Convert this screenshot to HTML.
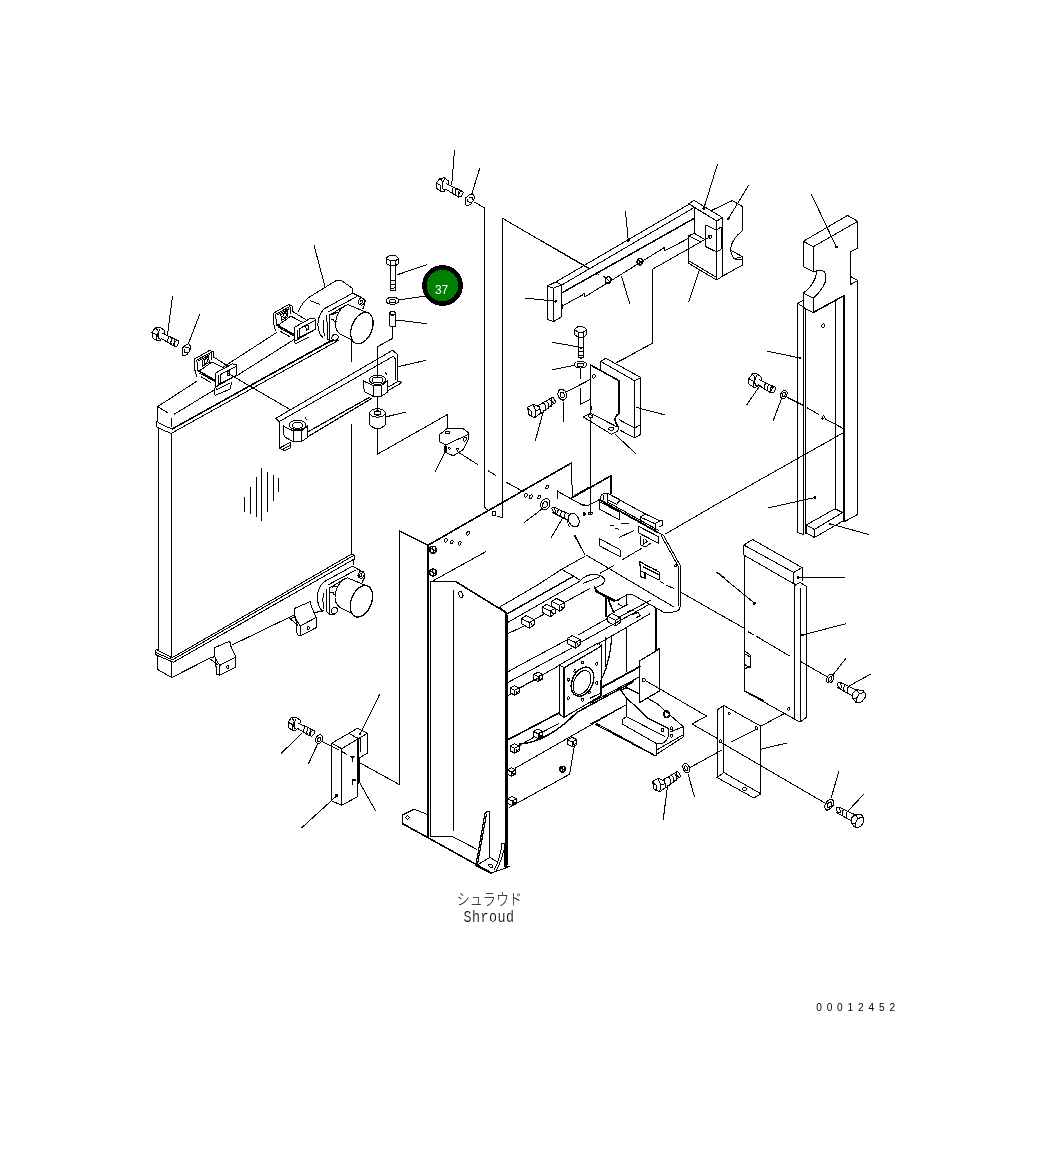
<!DOCTYPE html>
<html><head><meta charset="utf-8"><title>Shroud</title>
<style>
html,body{margin:0;padding:0;background:#fff;}
body{width:1044px;height:1161px;overflow:hidden;position:relative;font-family:"Liberation Sans","Noto Sans CJK JP",sans-serif;}
svg{position:absolute;left:0;top:0;display:block;will-change:transform}
.t{position:absolute;white-space:nowrap;color:#000}
</style></head><body>
<svg shape-rendering="crispEdges" width="1044" height="1161" viewBox="0 0 1044 1161">
<path fill="none" stroke="#000" stroke-width="1" stroke-linecap="round" stroke-linejoin="round" d="M 172.5 296.3 167.5 335.0 M 199.7 314.2 188.7 343.0 M 152.0 332.1 155.8 327.5 160.1 327.2 164.4 330.4 164.7 333.1 M 152.0 332.1 152.0 337.5 156.9 340.7 160.1 340.4 161.6 338.4 M 155.8 327.5 158.4 331.5 M 152.0 332.4 156.6 334.7 156.6 340.4 M 160.1 328.9 Q 157.5 332.4 158.4 337.5 Q 158.9 339.0 160.4 339.4 M 158.4 331.5 Q 157.2 334.7 158.4 338.1 M 162.4 333.2 177.0 340.1 M 161.6 338.6 174.2 346.3 M 169.0 336.4 Q 167.1 339.6 168.1 342.6 M 172.1 338.0 Q 170.3 341.0 171.3 344.3 M 175.0 339.4 Q 173.3 342.4 174.3 345.9 M 182.2 348.2 186.2 344.6 188.8 343.9 190.8 346.3 190.5 349.3 187.5 354.1 183.9 355.9 182.2 354.8 Z M 184.4 349.3 184.4 352.0 187.4 352.6 M 185.7 347.9 188.6 347.4 189.8 350.3 M 157.5 406.7 196.7 381.3 M 157.5 406.7 157.5 421.7 M 157.5 406.7 168.3 413.0 M 171.7 418.3 171.7 427.0 M 174.2 414.2 214.2 390.0 M 235.8 376.3 293.8 339.7 M 223.3 367.0 276.7 332.5 M 172.0 433.0 338.3 340.5 M 156.3 421.7 156.3 426.3 Q 156.7 427.7 170.0 433.0 L 172.0 433.0 M 157.5 421.7 Q 158.0 423.3 171.7 428.8 M 158.3 428.3 158.3 464.0 M 171.3 433.3 171.3 464.0 M 194.4 359.1 209.7 350.4 213.6 351.9 213.7 357.1 228.4 366.4 M 194.4 359.1 194.9 370.1 196.8 376.8 M 201.1 376.8 210.9 382.5 M 196.8 360.0 211.2 352.4 211.8 359.5 M 196.8 360.0 197.8 371.0 M 198.7 360.7 209.9 354.7 M 199.2 371.0 212.1 361.9 M 202.1 360.5 208.8 356.7 209.2 362.4 202.5 366.2 Z M 199.7 373.1 214.5 381.4 M 212.1 361.9 224.1 368.3 M 216.0 372.9 232.2 363.8 236.5 364.8 236.7 375.1 216.9 386.4 M 216.0 372.9 215.5 385.4 216.4 389.7 229.8 383.0 M 220.7 374.4 220.3 383.5 M 218.8 375.8 218.3 384.4 M 220.7 374.4 236.1 366.4 M 218.8 384.2 236.4 375.3 M 227.0 372.0 229.4 371.0 229.4 375.1 227.4 376.0 Z M 273.2 313.3 288.5 304.6 292.4 306.1 292.5 311.3 307.2 320.6 M 273.2 313.3 273.7 324.3 275.6 331.0 M 279.9 331.0 289.7 336.7 M 275.6 314.2 290.0 306.6 290.6 313.7 M 275.6 314.2 276.6 325.2 M 277.5 314.9 288.7 308.9 M 278.0 325.2 290.9 316.1 M 280.9 314.7 287.6 310.9 288.0 316.6 281.3 320.4 Z M 278.5 327.3 293.3 335.6 M 290.9 316.1 302.9 322.5 M 294.8 327.1 311.0 318.0 315.3 319.0 315.5 329.3 295.7 340.6 M 294.8 327.1 294.3 339.6 295.2 343.9 308.6 337.2 M 299.5 328.6 299.1 337.7 M 297.6 330.0 297.1 338.6 M 299.5 328.6 314.9 320.6 M 297.6 338.4 315.2 329.5 M 305.8 326.2 308.2 325.2 308.2 329.3 306.2 330.2 Z M 214.2 388.3 215.0 395.3 230.0 389.2 231.7 382.5 M 314.2 245.8 325.0 286.7 M 298.0 311.7 Q 302.5 301.7 310.0 296.7 L 335.8 280.8 341.7 280.8 352.5 288.3 352.5 293.0 M 310.8 300.8 319.2 304.2 M 324.0 308.9 352.8 293.1 361.4 297.5 365.2 300.5 364.7 304.9 362.8 308.9 M 324.0 308.9 Q 318.3 314.7 317.8 324.3 Q 318.3 333.8 323.1 337.9 M 328.3 311.8 356.6 296.7 M 326.9 315.8 327.4 338.8 330.3 341.3 336.5 340.6 M 329.8 314.7 330.0 340.7 M 330.3 314.7 345.1 305.6 M 324.0 320.4 Q 322.6 328.1 324.5 336.0 M 330.7 319.0 333.6 319.0 334.1 321.6 336.5 321.9 M 332.6 314.7 Q 335.5 311.8 338.4 313.3 M 348.0 304.6 Q 336.5 308.9 335.5 324.3 Q 335.7 331.0 340.3 334.0 L 351.8 340.1 M 348.0 304.6 365.2 311.8 M 323.5 582.1 352.3 566.3 360.9 570.7 364.7 573.7 364.2 578.1 362.3 582.1 M 323.5 582.1 Q 317.8 587.9 317.3 597.5 Q 317.8 607.0 322.6 611.1 M 327.8 585.0 356.1 569.9 M 326.4 589.0 326.9 612.0 329.8 614.5 336.0 613.8 M 329.3 587.9 329.5 613.9 M 329.8 587.9 344.6 578.8 M 323.5 593.6 Q 322.1 601.3 324.0 609.2 M 330.2 592.2 333.1 592.2 333.6 594.8 336.0 595.1 M 332.1 587.9 Q 335.0 585.0 337.9 586.5 M 347.5 577.8 Q 336.0 582.1 335.0 597.5 Q 335.2 604.2 339.8 607.2 L 351.3 613.3 M 347.5 577.8 364.7 585.0 M 351.3 336.7 351.3 361.7 M 386.2 258.3 386.2 263.3 390.0 265.8 395.3 265.8 398.7 263.3 398.7 258.3 Q 395.8 255.0 392.5 255.0 Q 388.7 255.0 386.2 258.3 M 386.2 258.3 390.0 260.8 395.3 260.8 398.7 258.3 M 390.0 260.8 390.0 265.8 M 395.3 260.8 395.3 265.8 M 390.0 265.8 390.0 290.0 Q 392.8 292.0 395.8 290.0 L 395.8 265.8 M 390.0 280.0 Q 392.8 282.0 395.8 280.0 M 390.0 283.7 Q 392.8 285.7 395.8 283.7 M 390.0 287.3 Q 392.8 289.3 395.8 287.3 M 396.7 275.0 426.7 264.7 M 398.3 300.0 424.2 296.2 M 389.7 313.3 389.7 325.8 Q 392.8 328.0 395.8 325.8 L 395.8 313.3 M 396.3 320.0 426.7 323.7 M 392.8 327.5 392.8 338.3 377.5 346.7 377.5 376.7 M 275.8 418.3 392.5 350.3 397.5 354.2 397.8 380.8 401.7 382.5 M 285.0 418.3 393.3 356.3 395.3 358.7 395.3 379.7 M 275.8 418.3 279.2 421.7 279.2 448.3 284.2 450.8 290.0 448.3 290.0 443.3 M 279.2 421.7 285.0 418.3 M 279.2 448.3 290.0 442.5 M 281.7 450.0 290.0 445.3 M 387.5 390.8 401.7 382.8 M 388.3 387.0 398.3 381.3 M 283.3 425.8 284.2 436.7 293.3 441.7 301.3 441.7 307.5 437.5 307.5 425.8 M 283.3 426.3 293.3 430.8 301.3 430.8 307.5 426.3 M 293.3 430.8 293.3 441.7 M 301.3 430.8 301.3 441.7 M 305.5 418.0 307.0 420.3 M 363.3 380.5 364.2 391.4 373.3 396.4 381.3 396.4 387.5 392.2 387.5 380.5 M 363.3 381.0 373.3 385.5 381.3 385.5 387.5 381.0 M 373.3 385.5 373.3 396.4 M 381.3 385.5 381.3 396.4 M 385.5 372.7 387.0 375.0 M 392.5 335.0 392.5 338.3 377.5 346.7 377.5 375.0 M 377.5 396.7 377.5 410.0 M 369.7 413.3 369.7 425.0 Q 377.5 432.5 385.3 425.0 L 385.3 413.3 M 386.7 416.7 405.8 412.0 M377.5 429 L377.5 454.2 L447.5 414.5 L447.5 428.3 M 398.3 366.7 425.8 360.3 M227.5 373 L290.5 409.8 M 351.3 340.8 351.3 361.7 M 351.3 424.2 351.3 553.7 M 158.2 430.0 158.2 649.5 M 171.8 433.8 171.8 657.0 M 244.5 497.5 244.5 511.2 M 250.5 487.5 250.5 513.8 M 256.5 477.5 256.5 517.0 M 261.8 468.0 261.8 520.5 M 267.5 472.0 267.5 511.2 M 273.0 475.0 273.0 501.2 M 278.8 478.0 278.8 491.2 M 172.0 657.8 352.0 553.8 M 172.5 659.8 353.2 555.8 M 173.5 662.2 354.2 559.0 M 156.5 649.5 172.0 657.8 M 155.5 652.5 172.5 659.8 M 156.5 655.2 173.5 662.2 M 156.5 649.5 Q 154.2 652.5 156.5 655.2 M 352.0 553.8 Q 356.0 555.5 354.2 559.0 L 353.0 565.0 M 157.0 655.2 157.0 669.2 171.8 677.5 171.8 662.2 M 171.8 677.5 209.2 658.5 M 232.5 644.8 293.0 615.5 M 214.1 647.9 229.7 641.1 230.9 646.3 235.7 656.7 235.7 667.2 219.7 675.3 216.6 674.1 215.4 658.5 214.1 654.8 Z M 219.7 665.4 235.7 657.0 M 219.7 665.4 219.7 675.3 M 215.4 658.5 219.7 665.4 M 209.2 658.3 214.5 656.7 M 209.2 658.3 Q 213.5 661.0 217.2 664.8 M 294.6 608.4 310.2 601.6 311.4 606.8 316.2 617.2 316.2 627.7 300.2 635.8 297.1 634.6 295.9 619.0 294.6 615.3 Z M 300.2 625.9 316.2 617.5 M 300.2 625.9 300.2 635.8 M 295.9 619.0 300.2 625.9 M 289.7 618.8 295.0 617.2 M 289.7 618.8 Q 294.0 621.5 297.7 625.3 M 315.5 612.5 323.8 610.5 M428 545.3 L399.6 531 L399.6 784.7 L359.2 762.5 M 436.3 182.8 440.1 178.2 444.4 177.9 448.7 181.1 449.0 183.8 M 436.3 182.8 436.3 188.2 441.2 191.4 444.4 191.1 445.9 189.1 M 440.1 178.2 442.7 182.2 M 436.3 183.1 440.9 185.4 440.9 191.1 M 444.4 179.6 Q 441.8 183.1 442.7 188.2 Q 443.2 189.7 444.7 190.1 M 442.7 182.2 Q 441.5 185.4 442.7 188.8 M 446.7 183.9 461.3 190.8 M 445.9 189.3 458.5 197.0 M 453.3 187.1 Q 451.4 190.3 452.4 193.3 M 456.4 188.7 Q 454.6 191.7 455.6 195.0 M 459.3 190.1 Q 457.6 193.1 458.6 196.6 M 465.7 198.0 469.7 194.4 472.3 193.7 474.3 196.1 474.0 199.1 471.0 203.9 467.4 205.7 465.7 204.6 Z M 467.9 199.1 467.9 201.8 470.9 202.4 M 469.2 197.7 472.1 197.2 473.3 200.1 M 454.5 150.3 451.7 185.0 M 479.7 168.3 471.7 194.2 M 502.5 218.3 588.3 268.3 M 547.5 285.8 547.5 319.2 553.3 321.7 561.7 316.7 561.7 285.0 M 547.5 285.8 553.3 288.3 561.7 284.7 555.8 282.0 Z M 553.3 288.3 553.3 321.7 M 555.8 282.0 688.3 204.7 M 561.7 285.0 694.2 207.5 M 562.5 305.8 582.5 295.0 583.3 293.3 585.0 293.7 584.7 297.0 662.5 248.7 664.2 247.5 664.7 250.8 689.2 238.0 M 606.3 278.3 610.0 282.0 M 638.3 259.7 642.0 263.7 M 603.3 276.3 606.3 278.3 M 625.5 212.0 628.3 240.5 M 540.0 240.0 590.0 268.7 M 596.3 272.0 598.7 274.7 M 596.3 274.3 598.7 272.3 M 621.7 276.7 629.7 303.7 M 525.0 298.0 555.8 301.3 M 562.5 304.2 562.5 308.3 M 688.7 203.7 694.2 200.5 722.5 217.7 716.7 221.0 Z M 694.2 207.5 694.2 233.3 M 716.7 221.0 716.7 280.0 M 722.5 217.7 722.5 276.2 M 694.2 207.5 716.7 221.0 M 717.5 164.2 703.7 208.7 M 705.8 225.0 705.8 246.7 716.7 252.0 M 705.8 225.0 716.7 230.3 720.0 227.7 721.7 228.3 721.7 248.7 716.7 252.0 M 710.0 236.7 652.5 269.2 652.5 343.0 618.3 362.0 M 688.7 235.8 694.2 233.3 705.8 240.0 M 688.7 235.8 688.7 263.3 716.7 280.0 722.5 276.2 M 688.7 260.8 716.7 277.5 M 688.7 235.8 700.0 241.7 M 699.2 270.8 688.7 301.7 M 712.5 210.0 732.5 200.5 742.5 206.7 742.5 230.8 Q 732.5 238.3 730.8 247.5 Q 730.3 254.2 734.2 258.7 L 742.5 256.7 M 742.5 256.7 742.5 265.0 722.5 276.2 M 731.7 250.8 742.5 256.7 M 734.2 258.7 Q 736.7 260.3 742.5 259.2 M 748.7 185.0 728.3 218.8 M 803.3 241.3 847.5 215.5 857.8 221.3 813.3 246.7 Z M 803.3 241.3 803.3 266.7 813.3 271.7 813.3 246.7 M 857.8 221.3 857.8 248.0 850.3 252.0 850.3 284.7 857.8 280.5 M 850.3 276.3 857.8 280.5 M 813.3 271.7 Q 820.0 269.2 824.2 271.3 M 816.7 271.7 Q 815.0 285.0 803.3 293.0 M 824.2 271.3 Q 830.8 281.7 813.3 298.3 M 803.3 293.0 803.3 307.5 813.3 312.5 M 803.3 293.0 813.3 298.3 813.3 312.5 M 797.5 303.3 803.3 300.3 M 797.5 303.3 805.8 308.3 M 811.3 194.2 836.3 247.0 M 797.5 303.2 797.5 532.5 803.8 534.5 M 803.8 308.2 803.8 533.8 M 805.5 308.2 805.5 533.8 M 835.0 300.8 835.0 508.8 M 857.5 280.5 857.5 514.5 843.8 522.0 M 806.2 525.0 835.0 508.8 842.5 512.5 814.5 529.5 Z M 806.2 525.0 806.2 533.0 814.5 537.5 814.5 529.5 M 814.5 537.5 842.5 521.2 M 868.8 534.5 830.0 523.8 M 767.5 351.2 800.0 358.0 M 768.0 508.0 815.0 497.5 M 787.5 397.5 802.5 405.0 M 807.5 408.0 818.8 414.5 M 825.0 418.8 843.8 428.8 M 843.8 432.5 710.0 508.0 M 748.8 378.6 752.5 374.0 756.8 373.7 761.1 376.9 761.4 379.6 M 748.8 378.6 748.8 384.1 753.6 387.2 756.8 386.9 758.3 384.9 M 752.5 374.0 755.1 378.0 M 748.8 378.9 753.3 381.2 753.3 386.9 M 756.8 375.4 Q 754.2 378.9 755.1 384.1 Q 755.6 385.5 757.1 385.9 M 755.1 378.0 Q 753.9 381.2 755.1 384.6 M 759.1 379.7 773.8 386.6 M 758.3 385.1 770.9 392.8 M 765.7 382.9 Q 763.9 386.1 764.8 389.1 M 768.9 384.5 Q 767.0 387.5 768.0 390.8 M 771.7 385.9 Q 770.0 388.9 771.0 392.4 M 760.0 385.5 747.0 404.5 M 781.2 399.5 773.0 421.2 M 574.3 329.6 574.3 334.6 578.1 337.1 583.4 337.1 586.8 334.6 586.8 329.6 Q 583.9 326.3 580.6 326.3 Q 576.8 326.3 574.3 329.6 M 574.3 329.6 578.1 332.1 583.4 332.1 586.8 329.6 M 578.1 332.1 578.1 337.1 M 583.4 332.1 583.4 337.1 M 578.1 337.1 578.1 357.1 Q 580.9 359.1 583.9 357.1 L 583.9 337.1 M 578.1 347.1 Q 580.9 349.1 583.9 347.1 M 578.1 350.8 Q 580.9 352.8 583.9 350.8 M 578.1 354.5 Q 580.9 356.5 583.9 354.5 M 553.0 342.5 577.5 346.7 M 552.5 369.7 574.2 365.3 M 580.5 368.3 580.5 378.3 M 580.5 388.3 580.5 404.2 590.0 399.7 M 583.3 417.0 590.0 413.7 M 583.3 417.0 611.3 434.2 617.5 431.3 618.7 427.5 M 590.8 413.3 616.7 426.7 M 590.5 405.8 592.0 408.3 590.5 410.8 M 600.5 370.8 600.5 361.3 605.8 358.3 640.8 377.5 640.8 434.2 634.7 438.0 634.7 380.8 600.5 361.3 M 634.7 380.8 640.8 377.5 M 619.2 419.7 634.7 428.0 640.8 424.7 M 619.7 430.0 634.7 438.0 M 652.5 336.7 652.5 343.3 616.7 362.5 M 664.2 414.7 636.7 407.5 M 615.0 434.2 635.8 453.7 M 527.5 407.5 533.0 404.2 539.2 406.7 540.8 413.0 534.7 417.7 529.2 415.3 Z M 533.0 404.2 535.8 410.8 534.7 417.7 M 535.8 410.8 540.8 409.2 M 527.5 408.0 531.7 411.7 531.7 416.3 M 538.7 405.3 552.0 397.5 M 541.3 413.3 554.3 403.0 M 543.7 403.0 Q 546.7 405.8 545.8 410.0 M 546.7 401.3 Q 549.7 404.2 548.8 408.3 M 549.7 399.5 Q 552.7 402.3 551.8 406.3 M 543.7 410.0 535.3 440.8 M 563.0 400.0 563.3 421.7 M 566.7 391.7 590.8 379.2 M 590.5 418.3 590.5 514.0 M 439.2 434.7 447.5 428.3 462.5 428.3 468.7 433.0 468.7 438.7 463.0 449.7 453.3 455.8 447.0 453.0 445.8 445.0 439.2 441.7 Z M 445.8 445.0 468.7 434.2 M 445.0 451.7 435.3 471.7 M 457.5 451.7 478.0 464.7 M 488.3 470.8 495.8 475.3 M 505.8 482.0 523.3 491.7 M474.2 202 L484.7 208 L484.7 506.7 Q485 509 488.3 510 M502.5 218.3 L502.5 517.5 L497.5 516.5 M 492.0 511.3 495.8 511.3 495.8 515.3 492.0 515.3 Z M 571.7 463.0 572.2 497.5 M 557.5 491.3 557.5 498.3 M 557.5 491.3 581.7 504.7 589.0 505.3 M 429.8 547.7 436.2 551.5 M 432.3 546.5 433.5 552.8 M 429.8 570.5 436.2 574.3 M 432.3 569.3 433.5 575.7 M 541.7 509.2 524.2 522.5 M 570.0 514.3 Q 565.8 520.0 569.2 526.7 M 554.8 507.5 570.3 514.7 M 552.5 512.5 567.5 520.0 M 558.7 509.3 Q 556.3 512.5 557.0 514.7 M 562.3 511.0 Q 560.0 514.3 560.7 516.5 M 565.8 512.7 Q 563.7 516.0 564.3 518.3 M 562.5 518.3 551.3 537.5 M 574.2 535.3 585.0 554.7 M 433.0 580.8 485.8 551.7 M 430.3 836.7 430.3 581.7 M 557.5 490.8 557.5 498.3 M 590.5 446.7 590.5 512.0 M 588.8 512.3 592.0 512.3 592.0 514.3 588.8 514.3 Z M 582.5 505.3 Q 587.5 506.3 590.0 504.7 L 600.0 499.2 Q 600.0 494.7 604.2 493.7 L 608.3 493.7 645.8 514.2 M 656.7 531.7 663.3 535.0 680.0 565.0 680.0 606.7 Q 679.2 612.0 673.3 612.0 L 663.3 612.0 656.7 608.3 633.3 595.0 Q 628.3 593.3 623.3 596.7 L 616.7 600.8 608.3 598.3 595.8 590.0 M 661.3 535.8 678.0 565.8 678.0 605.8 M 607.5 493.7 607.5 501.7 M 603.3 495.0 603.3 500.0 M 608.3 500.0 616.7 504.2 620.3 500.0 611.3 495.0 M 599.5 501.7 619.2 512.0 619.2 519.7 599.5 509.2 Z M 599.5 538.7 620.0 549.7 620.0 556.7 599.5 545.8 Z M 607.5 502.0 658.3 530.3 M 640.0 524.2 640.0 517.0 645.8 514.2 660.0 520.8 662.5 520.8 662.5 525.3 659.2 526.7 M 640.0 517.0 655.0 523.7 655.3 529.7 M 655.0 523.7 660.0 520.8 M 638.3 526.3 658.7 536.7 658.7 543.3 638.3 532.8 Z M 640.8 536.7 640.8 545.0 645.8 547.0 650.3 543.3 M 643.3 539.2 643.3 544.2 647.5 541.3 645.0 539.2 M 639.2 561.3 659.2 572.0 659.2 580.0 640.8 570.8 Z M 610.8 525.8 614.2 525.0 M 621.7 523.3 628.3 523.3 M 615.0 528.3 618.3 529.2 M 619.2 537.5 633.3 530.8 M 621.7 560.0 641.7 548.3 M 600.0 573.3 613.3 565.8 M 660.0 581.7 663.3 583.3 M 666.7 585.3 673.3 588.3 M 575.0 535.3 585.0 554.7 M 586.7 555.3 673.3 606.7 M 665.0 534.2 724.0 500.0 M680 591.7 L744.2 628.3 M 717.5 572.5 724.0 577.5 M 561.7 569.2 584.2 556.7 M 580.8 580.0 Q 588.3 572.5 599.2 575.3 Q 607.5 578.3 603.0 583.7 L 595.0 588.3 M 583.3 583.3 600.0 576.7 M 595.0 588.3 598.3 591.7 616.7 600.8 M 453.7 590.8 453.7 830.8 M 507.8 615.0 507.8 865.0 M 500.0 606.8 537.5 585.0 561.6 569.3 M 500.0 607.6 506.9 613.0 M 507.7 622.5 581.0 580.6 M 561.6 569.3 581.0 580.6 M 507.7 633.7 524.1 626.0 M 534.9 619.1 543.7 614.3 M 564.8 602.2 589.5 588.7 M 521.5 618.7 526.1 615.7 534.5 619.9 529.5 622.5 Z M 521.5 618.7 521.5 623.7 529.5 628.3 529.5 622.5 M 529.5 628.3 534.5 624.8 534.5 619.9 M 531.0 623.3 532.2 625.6 533.7 624.8 M 542.1 607.2 546.7 604.2 555.2 608.4 550.2 611.1 Z M 542.1 607.2 542.1 612.2 550.2 616.8 550.2 611.1 M 550.2 616.8 555.2 613.4 555.2 608.4 M 551.7 611.8 552.9 614.1 554.4 613.4 M 551.7 601.5 556.3 598.4 564.8 602.6 559.8 605.3 Z M 551.7 601.5 551.7 606.5 559.8 611.1 559.8 605.3 M 559.8 611.1 564.8 607.6 564.8 602.6 M 561.3 606.1 562.5 608.4 564.0 607.6 M 567.4 638.6 572.0 635.6 580.5 639.8 575.5 642.5 Z M 567.4 638.6 567.4 643.6 575.5 648.2 575.5 642.5 M 575.5 648.2 580.5 644.8 580.5 639.8 M 577.0 643.2 578.2 645.5 579.7 644.8 M 507.8 672.0 521.0 664.5 M 567.4 639.8 521.0 664.5 M 507.8 682.5 571.0 648.5 M 578.5 634.8 607.4 618.5 M 579.0 643.2 650.0 604.0 M 597.4 644.3 650.0 613.7 M 618.5 617.4 650.0 600.5 M 613.8 611.6 627.5 604.8 M 607.4 616.4 612.0 613.4 620.4 617.6 615.4 620.2 Z M 607.4 616.4 607.4 621.4 615.4 626.0 615.4 620.2 M 615.4 626.0 620.4 622.5 620.4 617.6 M 616.9 621.0 618.1 623.3 619.6 622.5 M 559.2 665.0 597.5 643.3 M 564.2 668.0 601.7 646.0 M 507.8 695.8 510.0 694.5 M 519.5 688.0 533.5 680.0 M 543.0 674.5 559.2 665.5 M 533.6 674.4 538.2 672.1 542.8 674.4 542.8 679.2 538.2 681.5 533.6 679.2 Z M 533.6 674.4 538.2 676.7 542.8 674.4 M 538.2 676.7 538.2 681.5 M 539.6 677.2 540.0 679.5 541.9 678.1 M 510.1 688.0 514.7 685.7 519.3 688.0 519.3 692.8 514.7 695.1 510.1 692.8 Z M 510.1 688.0 514.7 690.3 519.3 688.0 M 514.7 690.3 514.7 695.1 M 516.1 690.8 516.5 693.1 518.4 691.7 M 559.2 665.0 597.5 643.3 601.7 645.8 601.7 695.0 564.2 717.5 559.2 714.2 Z M 564.2 667.5 564.2 717.5 M 559.2 665.0 564.2 667.5 601.7 645.8 M 655.8 650.0 659.2 648.3 659.7 690.8 M 642.3 678.7 645.0 678.7 645.0 681.3 642.3 681.3 Z M645.8 680.8 L706.5 716 L692 724 L716.5 738 M 626.7 628.3 626.7 671.7 M 626.7 683.3 626.7 688.3 M 590.0 703.3 639.7 676.7 M 590.0 698.3 601.7 692.5 M626.4 595.8 L626.4 604.8 L623.2 606.9 L618 603.7 M 622.5 719.2 626.7 716.7 665.0 736.7 M 622.5 719.2 622.5 724.2 656.7 743.7 M 668.3 728.3 Q 670.3 738.3 663.3 743.0 L 656.7 743.7 656.7 755.8 M 647.5 698.3 656.7 703.3 683.3 726.7 683.3 737.0 656.7 754.2 M 656.7 750.0 683.3 734.7 M 670.8 731.7 683.3 726.7 M 595.0 724.2 655.0 755.8 M 590.0 724.2 625.8 705.0 M 744.2 578.3 744.2 690.8 764.0 700.8 M 745.8 651.7 750.0 655.0 750.0 666.7 745.8 668.3 M 748.3 631.7 752.5 634.2 M 756.7 636.3 761.7 639.2 M 519.2 688.3 539.2 677.5 M 559.2 665.0 559.2 713.3 563.3 717.5 600.0 696.7 600.0 680.0 M 563.3 668.3 563.3 717.5 M 519.2 745.8 533.3 737.5 M 542.5 732.0 558.7 723.7 M 510.1 746.0 514.7 743.7 519.3 746.0 519.3 750.8 514.7 753.1 510.1 750.8 Z M 510.1 746.0 514.7 748.3 519.3 746.0 M 514.7 748.3 514.7 753.1 M 516.1 748.8 516.5 751.1 518.4 749.7 M 533.4 731.4 538.0 729.1 542.6 731.4 542.6 736.2 538.0 738.5 533.4 736.2 Z M 533.4 731.4 538.0 733.7 542.6 731.4 M 538.0 733.7 538.0 738.5 M 539.4 734.2 539.8 736.5 541.7 735.1 M 567.6 739.7 572.2 737.4 576.8 739.7 576.8 744.5 572.2 746.8 567.6 744.5 Z M 567.6 739.7 572.2 742.0 576.8 739.7 M 572.2 742.0 572.2 746.8 M 573.6 742.5 574.0 744.8 575.9 743.4 M 515.0 768.3 625.8 705.0 M 574.2 746.7 569.7 774.2 509.2 807.5 M 507.3 769.9 511.5 767.8 515.7 769.9 515.7 774.3 511.5 776.4 507.3 774.3 Z M 507.3 769.9 511.5 772.0 515.7 769.9 M 511.5 772.0 511.5 776.4 M 512.8 772.4 513.2 774.5 514.9 773.3 M 507.6 798.8 512.0 796.6 516.4 798.8 516.4 803.4 512.0 805.6 507.6 803.4 Z M 507.6 798.8 512.0 801.0 516.4 798.8 M 512.0 801.0 512.0 805.6 M 513.3 801.4 513.8 803.6 515.5 802.3 M 559.8 767.5 565.2 770.7 M 561.8 766.5 563.0 771.8 M 595.8 723.0 655.8 755.8 M 652.5 781.7 658.0 778.3 664.2 780.8 665.8 787.2 659.7 791.8 654.2 789.5 Z M 658.0 778.3 660.8 785.0 659.7 791.8 M 660.8 785.0 665.8 783.3 M 652.5 782.2 656.7 785.8 656.7 790.5 M 663.7 779.5 677.0 771.7 M 666.3 787.5 679.3 777.2 M 668.7 777.2 Q 671.7 780.0 670.8 784.2 M 671.7 775.5 Q 674.7 778.3 673.8 782.5 M 674.7 773.7 Q 677.7 776.5 676.8 780.5 M 667.5 785.8 663.3 819.7 M 430.3 836.7 452.5 836.7 476.7 849.2 M 402.5 815.0 414.2 809.2 426.7 814.2 M 402.5 815.0 402.5 824.2 M 405.3 817.5 407.5 815.8 409.7 817.5 407.5 819.3 Z M 475.8 865.8 489.7 857.5 497.5 861.7 M 475.8 865.8 490.8 873.3 509.2 866.7 M 494.2 870.0 Q 500.0 860.0 502.0 843.3 L 504.2 843.0 504.2 866.7 M 495.8 871.3 Q 502.0 860.0 503.7 850.0 M 506.7 866.7 509.2 866.7 M 559.2 700.0 559.2 713.3 M 564.2 700.0 564.2 716.7 M 743.8 555.0 743.8 545.0 752.5 539.5 802.0 567.5 802.0 581.2 M 743.8 545.0 793.8 572.5 802.0 567.5 M 793.8 572.5 793.8 583.8 M 743.8 555.0 793.8 583.8 M 744.5 555.0 744.5 691.2 796.2 720.0 M 794.5 583.8 794.5 718.8 M 800.0 587.5 800.0 722.0 M 806.2 586.2 806.2 717.5 M 794.5 585.5 800.0 582.5 806.2 586.2 M 796.2 720.0 800.0 722.0 806.2 717.5 M 745.0 653.8 750.0 657.0 750.0 667.5 745.5 665.0 M 717.0 572.5 754.5 603.2 M 845.0 577.0 798.0 577.5 M 845.5 623.8 802.5 635.0 M 748.8 632.5 753.8 635.0 M 757.5 637.0 790.0 656.2 M 800.0 661.2 826.2 676.2 M 846.2 658.0 832.5 675.5 M 839.2 807.2 855.3 814.9 M 836.5 812.6 851.6 820.9 M 843.5 809.5 Q 841.8 812.2 842.9 815.2 M 847.2 811.2 Q 845.5 813.9 846.5 817.2 M 851.6 817.6 855.3 814.6 861.3 814.9 863.7 817.6 863.7 822.3 861.3 825.6 858.0 827.7 854.6 827.0 851.6 823.6 Z M 855.3 814.6 858.0 818.3 855.3 823.0 855.3 827.0 M 858.0 818.3 863.7 817.2 M 851.6 823.6 855.3 823.0 M 840.5 682.5 856.6 690.2 M 837.8 687.9 852.9 696.2 M 844.8 684.8 Q 843.1 687.5 844.2 690.5 M 848.5 686.5 Q 846.8 689.2 847.8 692.5 M 852.9 692.9 856.6 689.9 862.6 690.2 865.0 692.9 865.0 697.6 862.6 700.9 859.3 703.0 855.9 702.3 852.9 698.9 Z M 856.6 689.9 859.3 693.6 856.6 698.3 856.6 702.3 M 859.3 693.6 865.0 692.5 M 852.9 698.9 856.6 698.3 M 824.4 806.8 826.7 801.5 830.8 799.1 833.8 800.8 833.5 804.8 830.4 808.5 826.7 810.5 Z M 827.1 806.5 828.1 803.2 830.8 801.8 831.8 803.5 830.8 806.2 828.4 807.9 Z M 870.5 674.2 848.8 686.2 M 863.7 794.2 847.9 811.2 M 838.8 771.4 831.1 798.1 M 717.0 710.0 723.8 705.5 760.8 726.2 760.8 793.8 753.8 798.0 717.0 777.5 Z M 723.8 705.5 723.8 772.5 717.0 777.5 M 723.8 772.5 760.8 793.8 M 731.2 742.0 755.8 729.5 M 760.8 749.2 786.2 743.2 M 760.8 726.2 783.8 713.8 M 721.2 742.5 826.2 803.8 M 722.0 750.0 690.0 767.5 M 688.0 773.8 694.5 797.0 M 667.5 786.2 663.2 819.5 M 331.7 743.3 357.5 728.3 367.5 733.3 341.7 748.7 Z M 331.7 743.3 331.7 800.8 341.7 805.3 341.7 748.7 M 341.7 805.3 357.5 796.7 357.5 737.5 M 348.3 733.0 358.3 738.7 358.3 758.3 367.5 753.3 367.5 733.3 M 360.8 737.5 360.8 751.7 M 379.7 694.2 360.0 734.2 M 360.0 783.3 375.3 810.3 M 336.7 795.8 302.0 827.5 M 322.5 741.7 338.3 749.7 M 342.5 752.0 346.7 754.2 M 317.5 744.2 308.7 763.3 M 288.0 722.0 291.7 717.4 296.0 717.1 300.4 720.3 300.6 723.0 M 288.0 722.0 288.0 727.5 292.9 730.6 296.0 730.3 297.6 728.3 M 291.7 717.4 294.3 721.4 M 288.0 722.3 292.6 724.6 292.6 730.3 M 296.0 718.8 Q 293.5 722.3 294.3 727.5 Q 294.9 728.9 296.3 729.3 M 294.3 721.4 Q 293.2 724.6 294.3 728.0 M 298.3 723.1 313.0 730.0 M 297.6 728.5 310.1 736.2 M 305.0 726.3 Q 303.1 729.5 304.1 732.5 M 308.1 727.9 Q 306.3 730.9 307.3 734.2 M 311.0 729.3 Q 309.3 732.3 310.2 735.8 M 301.7 733.3 281.3 753.3"/>
<path fill="none" stroke="#000" stroke-width="1.6" stroke-linecap="round" stroke-linejoin="round" d="M 172.5 428.8 333.3 339.5 M 721.3 227.7 721.3 248.3 M 843.8 295.5 843.8 521.2 M 428.0 545.2 571.7 462.8 M 571.7 497.5 589.0 487.5 M 572.5 497.5 610.8 475.8 611.3 493.7 M 455.2 581.3 506.8 613.0 M 655.8 608.3 655.8 650.0 M605.9 595.8 L605.9 616.4 M608.5 600 L613.8 612.7 M 507.7 739.8 558.5 713.2 M 402.7 823.7 491.0 872.7 M 358.7 758.3 358.7 783.3"/>
<path fill="none" stroke="#000" stroke-width="1.5" stroke-linecap="round" stroke-linejoin="round" d="M 198.7 371.0 215.5 380.6 M 277.5 325.2 294.3 334.8 M 561.7 293.0 694.2 218.3 M 813.3 312.5 844.2 295.5 M 590.5 414.2 590.5 365.0 619.2 380.8 619.2 413.3 Q 615.0 415.8 615.0 420.0 Q 615.8 424.2 618.7 427.5 M 430.3 581.7 455.0 581.7 M594.8 586.8 L595.8 591.6 L613.8 601.1 L618 600 M 519.2 744.2 Q 548.3 741.7 576.7 712.5 L 633.3 681.7"/>
<path fill="none" stroke="#000" stroke-width="1.2" stroke-linecap="round" stroke-linejoin="round" d="M 307.5 432.0 369.2 397.5 M 308.0 436.7 371.7 398.3 M 639.7 660.8 659.2 649.2 M 639.7 660.8 639.7 702.5 659.7 690.8 M 601.7 644.2 601.7 687.5 M 605.8 637.5 605.8 666.7 M 611.7 635.8 Q 610.8 658.3 602.5 677.5 M 627.5 611.7 633.3 610.0 M 630.0 615.0 638.3 612.5 640.0 615.8 636.7 617.5 M 475.8 865.8 485.0 813.3 Q 486.7 811.3 489.7 811.3 L 489.7 857.5 M 477.2 865.8 486.3 815.0 M 350.8 757.0 354.2 757.0 M 352.5 757.0 352.5 761.3 M 352.5 780.0 355.3 780.0 M 352.5 780.0 352.5 784.7"/>
<path fill="none" stroke="#000" stroke-width="1.8" stroke-linecap="round" stroke-linejoin="round" d="M 445.0 446.7 445.0 452.0 M 600.0 500.0 656.7 531.7 M 601.7 687.5 639.7 666.7"/>
<path fill="none" stroke="#000" stroke-width="2" stroke-linecap="round" stroke-linejoin="round" d="M 427.5 545.3 427.5 836.7 M 506.3 613.3 506.3 866.7"/>
<path fill="none" stroke="#000" stroke-width="1.3" stroke-linecap="round" stroke-linejoin="round" d="M 640.8 565.0 640.8 576.7 645.8 578.3 M 643.3 566.7 658.3 574.2 M 645.8 565.0 656.7 570.3 M 645.0 572.5 645.0 578.3 M 620.8 690.0 626.7 687.5 639.7 694.2 M 620.8 690.0 626.7 698.3 626.7 716.7 M 626.7 698.3 Q 640.0 710.0 646.7 717.5 L 668.3 728.3"/>
<path fill="none" stroke="#000" stroke-width="1.4" stroke-linecap="round" stroke-linejoin="round" d="M 508.0 613.4 573.6 576.2"/>
<ellipse cx="176.5" cy="343.4" rx="1.8" ry="3.3" transform="rotate(28 176.5 343.4)" fill="none" stroke="#000" stroke-width="1"/>
<ellipse cx="205.9" cy="361.3" rx="1.5" ry="2.6" transform="rotate(20 205.9 361.3)" fill="none" stroke="#000" stroke-width="1"/>
<ellipse cx="284.7" cy="315.5" rx="1.5" ry="2.6" transform="rotate(20 284.7 315.5)" fill="none" stroke="#000" stroke-width="1"/>
<ellipse cx="361.6" cy="301.5" rx="2.9" ry="3.6" transform="rotate(20 361.6 301.5)" fill="none" stroke="#000" stroke-width="1"/>
<ellipse cx="361.2" cy="302.0" rx="1.1" ry="1.7" transform="rotate(20 361.2 302.0)" fill="none" stroke="#000" stroke-width="1"/>
<ellipse cx="335.0" cy="337.5" rx="2.9" ry="3.3" transform="rotate(30 335.0 337.5)" fill="none" stroke="#000" stroke-width="1"/>
<ellipse cx="361.9" cy="328.1" rx="10.1" ry="16.5" transform="rotate(22 361.9 328.1)" fill="none" stroke="#000" stroke-width="1.3"/>
<ellipse cx="361.1" cy="574.7" rx="2.9" ry="3.6" transform="rotate(20 361.1 574.7)" fill="none" stroke="#000" stroke-width="1"/>
<ellipse cx="360.7" cy="575.2" rx="1.1" ry="1.7" transform="rotate(20 360.7 575.2)" fill="none" stroke="#000" stroke-width="1"/>
<ellipse cx="334.5" cy="610.7" rx="2.9" ry="3.3" transform="rotate(30 334.5 610.7)" fill="none" stroke="#000" stroke-width="1"/>
<ellipse cx="361.4" cy="601.3" rx="10.1" ry="16.5" transform="rotate(22 361.4 601.3)" fill="none" stroke="#000" stroke-width="1.3"/>
<ellipse cx="392.5" cy="300.8" rx="6.2" ry="3.7" transform="rotate(0 392.5 300.8)" fill="none" stroke="#000" stroke-width="1"/>
<ellipse cx="392.5" cy="301.2" rx="3.3" ry="1.7" transform="rotate(0 392.5 301.2)" fill="none" stroke="#000" stroke-width="1"/>
<ellipse cx="392.7" cy="313.3" rx="3.0" ry="1.7" transform="rotate(0 392.7 313.3)" fill="none" stroke="#000" stroke-width="1.4"/>
<ellipse cx="297.5" cy="425.0" rx="8.3" ry="4.7" transform="rotate(0 297.5 425.0)" fill="none" stroke="#000" stroke-width="1"/>
<ellipse cx="297.5" cy="425.3" rx="5.3" ry="3.0" transform="rotate(0 297.5 425.3)" fill="none" stroke="#000" stroke-width="1"/>
<ellipse cx="377.5" cy="379.7" rx="8.3" ry="4.7" transform="rotate(0 377.5 379.7)" fill="none" stroke="#000" stroke-width="1"/>
<ellipse cx="377.5" cy="380.0" rx="5.3" ry="3.0" transform="rotate(0 377.5 380.0)" fill="none" stroke="#000" stroke-width="1"/>
<ellipse cx="377.5" cy="413.0" rx="7.8" ry="4.2" transform="rotate(0 377.5 413.0)" fill="none" stroke="#000" stroke-width="1"/>
<ellipse cx="377.5" cy="413.0" rx="3.3" ry="2.0" transform="rotate(0 377.5 413.0)" fill="none" stroke="#000" stroke-width="1.5"/>
<ellipse cx="227.8" cy="667.2" rx="1.1" ry="1.7" transform="rotate(15 227.8 667.2)" fill="none" stroke="#000" stroke-width="1"/>
<ellipse cx="308.3" cy="627.7" rx="1.1" ry="1.7" transform="rotate(15 308.3 627.7)" fill="none" stroke="#000" stroke-width="1"/>
<ellipse cx="460.8" cy="194.1" rx="1.8" ry="3.3" transform="rotate(28 460.8 194.1)" fill="none" stroke="#000" stroke-width="1"/>
<ellipse cx="608.3" cy="280.0" rx="2.8" ry="3.3" transform="rotate(20 608.3 280.0)" fill="none" stroke="#000" stroke-width="1.5"/>
<ellipse cx="640.0" cy="261.7" rx="2.8" ry="3.3" transform="rotate(20 640.0 261.7)" fill="none" stroke="#000" stroke-width="1.5"/>
<ellipse cx="710.0" cy="236.7" rx="1.5" ry="1.7" transform="rotate(0 710.0 236.7)" fill="none" stroke="#000" stroke-width="1"/>
<ellipse cx="823.3" cy="325.8" rx="1.5" ry="2.0" transform="rotate(30 823.3 325.8)" fill="none" stroke="#000" stroke-width="1"/>
<ellipse cx="823.2" cy="417.5" rx="1.0" ry="1.8" transform="rotate(30 823.2 417.5)" fill="none" stroke="#000" stroke-width="1"/>
<ellipse cx="773.2" cy="389.9" rx="1.8" ry="3.3" transform="rotate(28 773.2 389.9)" fill="none" stroke="#000" stroke-width="1"/>
<ellipse cx="783.8" cy="394.5" rx="3.0" ry="4.2" transform="rotate(25 783.8 394.5)" fill="none" stroke="#000" stroke-width="1"/>
<ellipse cx="783.8" cy="394.5" rx="1.5" ry="2.2" transform="rotate(25 783.8 394.5)" fill="none" stroke="#000" stroke-width="1"/>
<ellipse cx="580.5" cy="364.7" rx="6.2" ry="3.3" transform="rotate(0 580.5 364.7)" fill="none" stroke="#000" stroke-width="1"/>
<ellipse cx="580.5" cy="365.0" rx="3.3" ry="1.7" transform="rotate(0 580.5 365.0)" fill="none" stroke="#000" stroke-width="1"/>
<ellipse cx="593.8" cy="376.3" rx="1.3" ry="2.0" transform="rotate(20 593.8 376.3)" fill="none" stroke="#000" stroke-width="1"/>
<ellipse cx="590.5" cy="416.3" rx="2.3" ry="1.5" transform="rotate(10 590.5 416.3)" fill="none" stroke="#000" stroke-width="1"/>
<ellipse cx="611.3" cy="428.7" rx="2.8" ry="1.7" transform="rotate(10 611.3 428.7)" fill="none" stroke="#000" stroke-width="1"/>
<ellipse cx="553.3" cy="400.3" rx="1.5" ry="3.2" transform="rotate(-30 553.3 400.3)" fill="none" stroke="#000" stroke-width="1"/>
<ellipse cx="562.2" cy="394.7" rx="4.2" ry="5.5" transform="rotate(-20 562.2 394.7)" fill="none" stroke="#000" stroke-width="1"/>
<ellipse cx="562.2" cy="395.0" rx="2.0" ry="2.8" transform="rotate(-20 562.2 395.0)" fill="none" stroke="#000" stroke-width="1"/>
<ellipse cx="447.5" cy="432.5" rx="2.0" ry="1.3" transform="rotate(0 447.5 432.5)" fill="none" stroke="#000" stroke-width="1.3"/>
<ellipse cx="465.0" cy="439.2" rx="1.3" ry="2.2" transform="rotate(25 465.0 439.2)" fill="none" stroke="#000" stroke-width="1"/>
<ellipse cx="449.2" cy="448.3" rx="1.0" ry="0.8" transform="rotate(0 449.2 448.3)" fill="none" stroke="#000" stroke-width="1"/>
<ellipse cx="457.5" cy="449.2" rx="1.0" ry="0.8" transform="rotate(0 457.5 449.2)" fill="none" stroke="#000" stroke-width="1"/>
<ellipse cx="433.0" cy="549.7" rx="3.2" ry="3.5" transform="rotate(0 433.0 549.7)" fill="none" stroke="#000" stroke-width="1.4"/>
<ellipse cx="433.0" cy="572.5" rx="3.2" ry="3.5" transform="rotate(0 433.0 572.5)" fill="none" stroke="#000" stroke-width="1.4"/>
<ellipse cx="445.8" cy="540.3" rx="1.3" ry="2.0" transform="rotate(30 445.8 540.3)" fill="none" stroke="#000" stroke-width="1"/>
<ellipse cx="451.7" cy="542.0" rx="1.3" ry="2.0" transform="rotate(30 451.7 542.0)" fill="none" stroke="#000" stroke-width="1"/>
<ellipse cx="459.7" cy="543.3" rx="1.3" ry="2.0" transform="rotate(30 459.7 543.3)" fill="none" stroke="#000" stroke-width="1"/>
<ellipse cx="468.0" cy="533.3" rx="1.3" ry="2.0" transform="rotate(30 468.0 533.3)" fill="none" stroke="#000" stroke-width="1"/>
<ellipse cx="525.8" cy="495.3" rx="1.3" ry="2.0" transform="rotate(30 525.8 495.3)" fill="none" stroke="#000" stroke-width="1"/>
<ellipse cx="530.8" cy="496.7" rx="1.3" ry="2.0" transform="rotate(30 530.8 496.7)" fill="none" stroke="#000" stroke-width="1"/>
<ellipse cx="539.2" cy="497.0" rx="1.3" ry="2.0" transform="rotate(30 539.2 497.0)" fill="none" stroke="#000" stroke-width="1"/>
<ellipse cx="547.2" cy="487.0" rx="1.3" ry="2.0" transform="rotate(30 547.2 487.0)" fill="none" stroke="#000" stroke-width="1"/>
<ellipse cx="545.3" cy="504.2" rx="4.5" ry="5.7" transform="rotate(25 545.3 504.2)" fill="none" stroke="#000" stroke-width="1"/>
<ellipse cx="545.0" cy="504.7" rx="2.3" ry="3.3" transform="rotate(25 545.0 504.7)" fill="none" stroke="#000" stroke-width="1"/>
<ellipse cx="573.7" cy="520.0" rx="5.0" ry="7.3" transform="rotate(-25 573.7 520.0)" fill="none" stroke="#000" stroke-width="1"/>
<ellipse cx="553.7" cy="510.0" rx="1.3" ry="2.8" transform="rotate(-25 553.7 510.0)" fill="none" stroke="#000" stroke-width="1"/>
<ellipse cx="584.2" cy="514.2" rx="0.7" ry="0.7" transform="rotate(0 584.2 514.2)" fill="none" stroke="#000" stroke-width="2"/>
<ellipse cx="584.2" cy="513.7" rx="0.7" ry="0.7" transform="rotate(0 584.2 513.7)" fill="none" stroke="#000" stroke-width="2"/>
<ellipse cx="675.8" cy="565.8" rx="1.0" ry="1.3" transform="rotate(0 675.8 565.8)" fill="none" stroke="#000" stroke-width="1"/>
<ellipse cx="460.8" cy="594.5" rx="2.0" ry="3.2" transform="rotate(-20 460.8 594.5)" fill="none" stroke="#000" stroke-width="1"/>
<ellipse cx="582.5" cy="681.7" rx="10.3" ry="15.3" transform="rotate(25 582.5 681.7)" fill="none" stroke="#000" stroke-width="1.4"/>
<ellipse cx="582.0" cy="682.5" rx="8.0" ry="12.7" transform="rotate(25 582.0 682.5)" fill="none" stroke="#000" stroke-width="1"/>
<ellipse cx="582.5" cy="662.5" rx="1.0" ry="1.5" transform="rotate(20 582.5 662.5)" fill="none" stroke="#000" stroke-width="1"/>
<ellipse cx="596.7" cy="663.7" rx="1.0" ry="1.5" transform="rotate(20 596.7 663.7)" fill="none" stroke="#000" stroke-width="1"/>
<ellipse cx="575.0" cy="670.8" rx="1.0" ry="1.5" transform="rotate(20 575.0 670.8)" fill="none" stroke="#000" stroke-width="1"/>
<ellipse cx="568.3" cy="679.7" rx="1.0" ry="1.5" transform="rotate(20 568.3 679.7)" fill="none" stroke="#000" stroke-width="1"/>
<ellipse cx="596.7" cy="683.0" rx="1.0" ry="1.5" transform="rotate(20 596.7 683.0)" fill="none" stroke="#000" stroke-width="1"/>
<ellipse cx="589.2" cy="692.5" rx="1.0" ry="1.5" transform="rotate(20 589.2 692.5)" fill="none" stroke="#000" stroke-width="1"/>
<ellipse cx="568.3" cy="698.3" rx="1.0" ry="1.5" transform="rotate(20 568.3 698.3)" fill="none" stroke="#000" stroke-width="1"/>
<ellipse cx="582.5" cy="699.7" rx="1.0" ry="1.5" transform="rotate(20 582.5 699.7)" fill="none" stroke="#000" stroke-width="1"/>
<ellipse cx="666.7" cy="714.2" rx="2.7" ry="3.3" transform="rotate(0 666.7 714.2)" fill="none" stroke="#000" stroke-width="1.5"/>
<ellipse cx="662.5" cy="730.0" rx="1.2" ry="1.5" transform="rotate(0 662.5 730.0)" fill="none" stroke="#000" stroke-width="1"/>
<ellipse cx="671.7" cy="728.3" rx="1.2" ry="1.5" transform="rotate(0 671.7 728.3)" fill="none" stroke="#000" stroke-width="1"/>
<ellipse cx="671.7" cy="735.8" rx="1.2" ry="1.5" transform="rotate(0 671.7 735.8)" fill="none" stroke="#000" stroke-width="1"/>
<ellipse cx="754.2" cy="603.3" rx="0.7" ry="0.7" transform="rotate(0 754.2 603.3)" fill="none" stroke="#000" stroke-width="2"/>
<ellipse cx="562.5" cy="769.2" rx="2.7" ry="2.9" transform="rotate(0 562.5 769.2)" fill="none" stroke="#000" stroke-width="1.4"/>
<ellipse cx="678.3" cy="774.5" rx="1.5" ry="3.2" transform="rotate(-30 678.3 774.5)" fill="none" stroke="#000" stroke-width="1"/>
<ellipse cx="490.8" cy="865.8" rx="2.3" ry="1.3" transform="rotate(20 490.8 865.8)" fill="none" stroke="#000" stroke-width="1"/>
<ellipse cx="788.8" cy="708.8" rx="1.0" ry="1.5" transform="rotate(0 788.8 708.8)" fill="none" stroke="#000" stroke-width="1"/>
<ellipse cx="830.0" cy="678.8" rx="3.2" ry="4.5" transform="rotate(30 830.0 678.8)" fill="none" stroke="#000" stroke-width="1"/>
<ellipse cx="830.0" cy="679.0" rx="1.5" ry="2.5" transform="rotate(30 830.0 679.0)" fill="none" stroke="#000" stroke-width="1"/>
<ellipse cx="838.2" cy="810.1" rx="1.7" ry="3.0" transform="rotate(-25 838.2 810.1)" fill="none" stroke="#000" stroke-width="1"/>
<ellipse cx="839.5" cy="685.4" rx="1.7" ry="3.0" transform="rotate(-25 839.5 685.4)" fill="none" stroke="#000" stroke-width="1"/>
<ellipse cx="729.2" cy="713.8" rx="1.0" ry="1.2" transform="rotate(0 729.2 713.8)" fill="none" stroke="#000" stroke-width="1"/>
<ellipse cx="756.2" cy="728.2" rx="1.2" ry="1.5" transform="rotate(0 756.2 728.2)" fill="none" stroke="#000" stroke-width="1"/>
<ellipse cx="720.5" cy="741.2" rx="1.2" ry="1.5" transform="rotate(0 720.5 741.2)" fill="none" stroke="#000" stroke-width="1"/>
<ellipse cx="744.5" cy="788.8" rx="2.0" ry="1.5" transform="rotate(0 744.5 788.8)" fill="none" stroke="#000" stroke-width="1"/>
<ellipse cx="686.2" cy="768.0" rx="3.2" ry="4.8" transform="rotate(-25 686.2 768.0)" fill="none" stroke="#000" stroke-width="1"/>
<ellipse cx="686.2" cy="768.2" rx="1.5" ry="2.5" transform="rotate(-25 686.2 768.2)" fill="none" stroke="#000" stroke-width="1"/>
<ellipse cx="336.7" cy="795.8" rx="0.7" ry="0.7" transform="rotate(0 336.7 795.8)" fill="none" stroke="#000" stroke-width="2"/>
<ellipse cx="319.2" cy="739.2" rx="3.3" ry="4.5" transform="rotate(25 319.2 739.2)" fill="none" stroke="#000" stroke-width="1"/>
<ellipse cx="319.2" cy="739.5" rx="1.5" ry="2.3" transform="rotate(25 319.2 739.5)" fill="none" stroke="#000" stroke-width="1"/>
<ellipse cx="312.4" cy="733.3" rx="1.8" ry="3.3" transform="rotate(28 312.4 733.3)" fill="none" stroke="#000" stroke-width="1"/>
<ellipse cx="703.7" cy="208.7" rx="0.9" ry="0.9" transform="rotate(0 703.7 208.7)" fill="#000" stroke="#000" stroke-width="1"/>
<ellipse cx="728.3" cy="218.8" rx="0.9" ry="0.9" transform="rotate(0 728.3 218.8)" fill="#000" stroke="#000" stroke-width="1"/>
<ellipse cx="836.3" cy="247.0" rx="0.9" ry="0.9" transform="rotate(0 836.3 247.0)" fill="#000" stroke="#000" stroke-width="1"/>
<ellipse cx="800.0" cy="358.0" rx="0.9" ry="0.9" transform="rotate(0 800.0 358.0)" fill="#000" stroke="#000" stroke-width="1"/>
<ellipse cx="815.0" cy="497.5" rx="0.9" ry="0.9" transform="rotate(0 815.0 497.5)" fill="#000" stroke="#000" stroke-width="1"/>
<ellipse cx="830.0" cy="523.8" rx="0.9" ry="0.9" transform="rotate(0 830.0 523.8)" fill="#000" stroke="#000" stroke-width="1"/>
<ellipse cx="628.3" cy="240.5" rx="0.9" ry="0.9" transform="rotate(0 628.3 240.5)" fill="#000" stroke="#000" stroke-width="1"/>
<ellipse cx="555.8" cy="301.3" rx="0.9" ry="0.9" transform="rotate(0 555.8 301.3)" fill="#000" stroke="#000" stroke-width="1"/>
<ellipse cx="754.5" cy="603.2" rx="0.9" ry="0.9" transform="rotate(0 754.5 603.2)" fill="#000" stroke="#000" stroke-width="1"/>
<ellipse cx="798.0" cy="577.5" rx="0.9" ry="0.9" transform="rotate(0 798.0 577.5)" fill="#000" stroke="#000" stroke-width="1"/>
<ellipse cx="802.5" cy="635.0" rx="0.9" ry="0.9" transform="rotate(0 802.5 635.0)" fill="#000" stroke="#000" stroke-width="1"/>
<ellipse cx="360.0" cy="734.2" rx="0.9" ry="0.9" transform="rotate(0 360.0 734.2)" fill="#000" stroke="#000" stroke-width="1"/>
<circle cx="442.5" cy="285.5" r="18" fill="#008000" stroke="#000" stroke-width="4.6"/>
<text x="441.6" y="294" font-family="Liberation Sans, sans-serif" font-size="12" fill="#fff" text-anchor="middle">37</text>
<text transform="translate(456.8,905.3) scale(1.06,1.3)" font-family="Liberation Sans, Noto Sans CJK JP, sans-serif" font-weight="300" font-size="12.3" fill="#000">シュラウド</text>
<text transform="translate(463.6,921.6) scale(1,1.27)" font-family="Liberation Mono, monospace" font-size="13.4" letter-spacing="0.45" fill="#000" stroke="#fff" stroke-width="0.12">Shroud</text>
<text x="816.2" y="1011.3" font-family="Liberation Sans, sans-serif" font-size="10.2" letter-spacing="4.8" fill="#000">00012452</text>

</svg>

</body></html>
